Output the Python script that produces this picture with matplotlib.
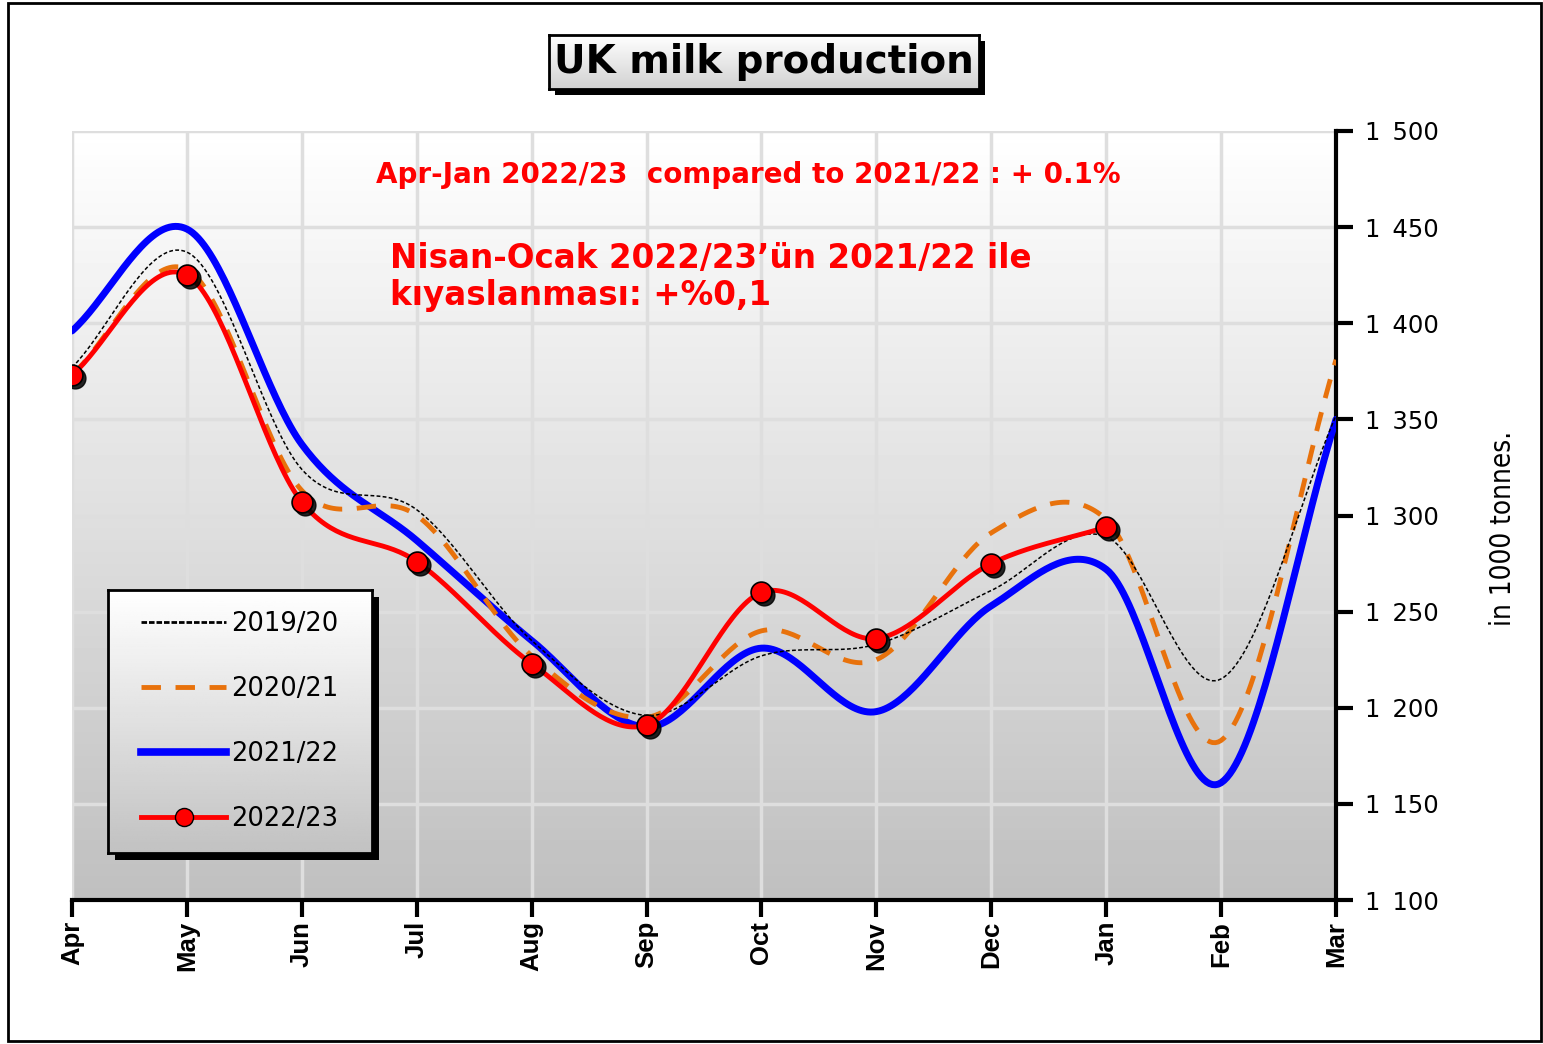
import numpy as np
import matplotlib.pyplot as plt
import matplotlib.transforms as mtransforms
from matplotlib.patches import Rectangle
from matplotlib.ticker import FuncFormatter

months = ["Apr", "May", "Jun", "Jul", "Aug", "Sep", "Oct", "Nov", "Dec", "Jan", "Feb", "Mar"]

# milk production, 1000 tonnes
y2019 = [1377, 1437, 1324, 1303, 1235, 1196, 1227, 1233, 1261, 1289, 1215, 1352]
y2020 = [1373, 1428, 1313, 1300, 1227, 1195, 1240, 1225, 1291, 1298, 1183, 1381]
y2021 = [1396, 1449, 1337, 1287, 1235, 1190, 1231, 1198, 1253, 1272, 1161, 1350]
y2022 = [1373, 1425, 1307, 1276, 1223, 1191, 1260, 1236, 1275, 1294]

W, H = 1543, 1044


def smooth(y, n=40):
    # Catmull-Rom style curve through the monthly points
    y = np.asarray(y, float)
    k = len(y)
    m = np.zeros(k)
    m[1:-1] = (y[2:] - y[:-2]) / 2
    m[0] = y[1] - y[0]
    m[-1] = y[-1] - y[-2]
    xs, ys = [], []
    for i in range(k - 1):
        t = np.linspace(0, 1, n, endpoint=(i == k - 2))
        h00 = 2 * t**3 - 3 * t**2 + 1
        h10 = t**3 - 2 * t**2 + t
        h01 = -2 * t**3 + 3 * t**2
        h11 = t**3 - t**2
        xs.append(i + t)
        ys.append(h00 * y[i] + h10 * m[i] + h01 * y[i + 1] + h11 * m[i + 1])
    return np.concatenate(xs), np.concatenate(ys)


def px_box(x0, y0, x1, y1):
    # pixel box (top-left origin) -> figure rect
    return [x0 / W, 1 - y1 / H, (x1 - x0) / W, (y1 - y0) / H]


def gradient_panel(rect, bottom_grey, z):
    a = fig.add_axes(rect, zorder=z)
    g = np.linspace(1, bottom_grey, 128).reshape(-1, 1)
    a.imshow(g, extent=(0, 1, 0, 1), aspect="auto", cmap="gray", vmin=0, vmax=1)
    a.set_xlim(0, 1)
    a.set_ylim(0, 1)
    a.set_xticks([])
    a.set_yticks([])
    for sp in a.spines.values():
        sp.set_linewidth(2)
    return a


def shadow_box(rect, off, z):
    x, y, w, h = rect
    fig.patches.append(Rectangle((x + off / W, y - off / H), w, h,
                                 transform=fig.transFigure, facecolor="black",
                                 zorder=z))


fig = plt.figure(figsize=(W / 100, H / 100), dpi=100)
fig.patches.append(Rectangle((8 / W, 3 / H), 1533 / W, 1038 / H,
                             transform=fig.transFigure, fill=False,
                             edgecolor="black", linewidth=2))

ax = fig.add_axes(px_box(72, 131, 1336, 900), zorder=0)
ax.set_xlim(0, 11)
ax.set_ylim(1100, 1500)

# background gradient
grad = np.linspace(1, 0, 256).reshape(-1, 1)
ax.imshow(grad, extent=(0, 11, 1100, 1500), aspect="auto", cmap="gray",
          vmin=-3.0, vmax=1.0, zorder=0, origin="upper")

for yv in range(1150, 1501, 50):
    ax.axhline(yv, color="#dedede", lw=2.5, zorder=1)
for xv in range(0, 11):
    ax.axvline(xv, color="#dedede", lw=2.5, zorder=1)

x, s = smooth(y2021)
ax.plot(x, s, color="#0000ff", lw=5, solid_capstyle="round", zorder=3)
x, s = smooth(y2020)
ax.plot(x, s, color="#e8720c", lw=3.5, dashes=(4, 3), zorder=4)
x, s = smooth(y2019)
ax.plot(x, s, color="black", lw=1.1, dashes=(2.5, 1.5), zorder=5)
x, s = smooth(y2022)
ax.plot(x, s, color="#ff0000", lw=3.5, zorder=6)
shadow = mtransforms.offset_copy(ax.transData, fig=fig, x=3, y=-3, units="dots")
ax.plot(range(len(y2022)), y2022, "o", ms=15, color="black", alpha=0.85,
        transform=shadow, zorder=6.5)
ax.plot(range(len(y2022)), y2022, "o", ms=15, mfc="#ff0000", mec="black",
        mew=1.2, zorder=7)

# axes styling
for side in ("left", "top"):
    ax.spines[side].set_visible(False)
ax.spines["right"].set_linewidth(3)
ax.spines["bottom"].set_linewidth(3)
ax.yaxis.tick_right()
ax.set_yticks(range(1100, 1501, 50))
ax.yaxis.set_major_formatter(
    FuncFormatter(lambda v, p: f"{int(v):,}".replace(",", "\u2002")))
ax.set_xticks(range(12))
ax.set_xticklabels(months, rotation=90)
ax.tick_params(axis="y", length=12, width=3, pad=9, labelsize=17.5,
               labelfontfamily="DejaVu Sans")
ax.tick_params(axis="x", length=12, width=3, pad=3, labelsize=18.5,
               labelfontfamily="Liberation Sans")
for lbl in ax.get_xticklabels():
    lbl.set_fontweight("bold")

fig.text(1503 / W, 1 - 528 / H, "in 1000 tonnes.", rotation=90,
         ha="center", va="center", fontsize=20, family="DejaVu Sans",
         fontstretch="condensed")

ax.text((748 - 72) / 1264 * 11, 1100 + (900 - 175) / 769 * 400,
        "Apr-Jan 2022/23  compared to 2021/22 : + 0.1%", color="#ff0000",
        fontsize=20, fontweight="bold", ha="center", va="center", zorder=8)
ax.text((390 - 72) / 1264 * 11, 1100 + (900 - 277) / 769 * 400,
        "Nisan-Ocak 2022/23\u2019\u00fcn 2021/22 ile\nk\u0131yaslanmas\u0131: +%0,1",
        color="#ff0000", fontsize=23.5, fontweight="bold", ha="left", va="center",
        linespacing=1.12, zorder=8)

# title box with drop shadow
title_rect = px_box(549, 35, 979, 89)
shadow_box(title_rect, 6, 1)
tax = gradient_panel(title_rect, 0.82, 2)
tax.text(0.5, 0.5, "UK milk production", ha="center", va="center",
         fontsize=28, fontweight="bold")

# legend panel with drop shadow
leg_rect = px_box(108, 590, 372, 853)
shadow_box(leg_rect, 7, 1)
lax = gradient_panel(leg_rect, 0.76, 2)
handles = [
    plt.Line2D([], [], color="black", lw=2, dashes=(2, 0.7)),
    plt.Line2D([], [], color="#e8720c", lw=3.5, dashes=(4, 3)),
    plt.Line2D([], [], color="#0000ff", lw=5.5),
    plt.Line2D([], [], color="#ff0000", lw=3.5, marker="o", ms=13,
               mfc="#ff0000", mec="black"),
]
lax.legend(handles, ["2019/20", "2020/21", "2021/22", "2022/23"], loc="center",
           prop={"family": "DejaVu Sans", "size": 18.5}, labelspacing=1.52,
           handlelength=3.3, handletextpad=0.2, frameon=False)

fig.savefig("out.png", dpi=100)
